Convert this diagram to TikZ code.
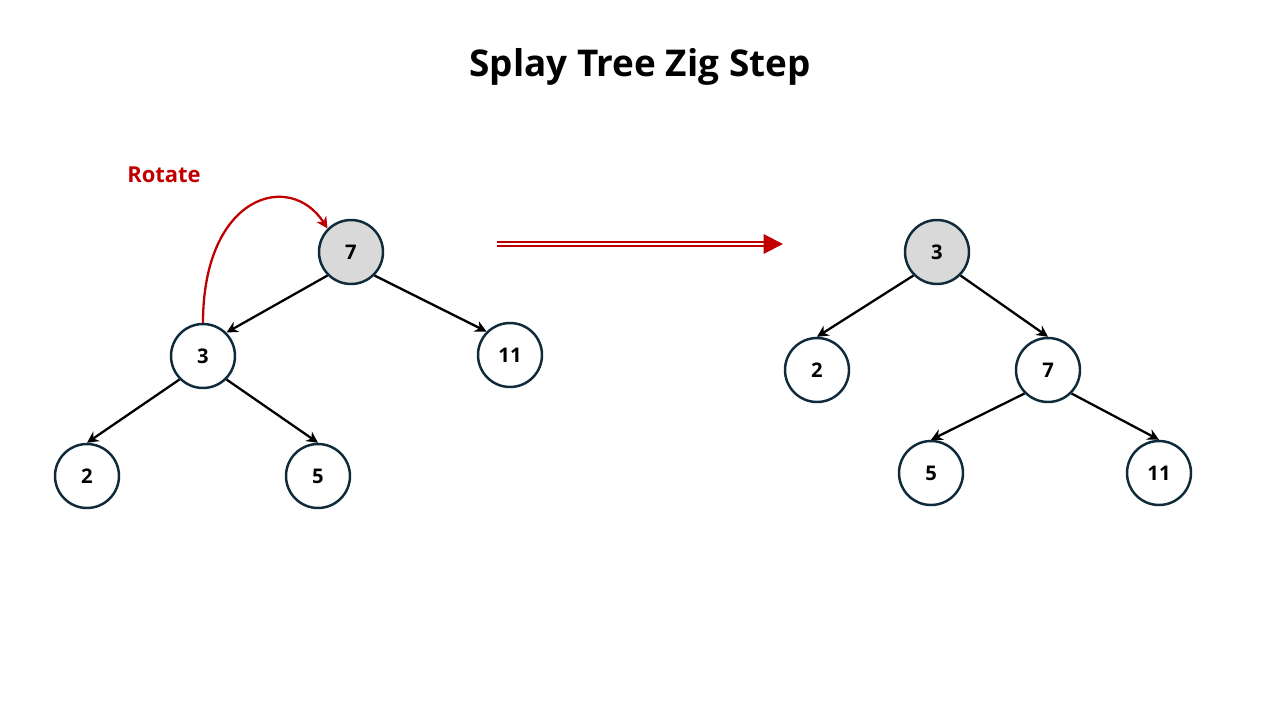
\documentclass[tikz,border=0pt]{standalone}
\usepackage{fontspec}
\setmainfont{Open Sans}
\usetikzlibrary{arrows.meta}
\definecolor{rotred}{HTML}{C00000}
\definecolor{ringblue}{HTML}{0E2A3B}
\definecolor{rootgray}{HTML}{D9D9D9}
\tikzset{
  key/.style={circle, draw=ringblue, line width=1.4pt, fill=white,
    minimum size=1.28cm, inner sep=0pt, font=\bfseries\fontsize{11.5}{13}\selectfont},
  rootkey/.style={key, fill=rootgray},
  link/.style={line width=1.3pt, -{Stealth[length=6.5pt,width=6.5pt]}}
}
\begin{document}
\begin{tikzpicture}[x=0.02cm,y=-0.02cm]
\useasboundingbox (0,0) rectangle (1280,720);
\path (640,67)  node (title)  {\bfseries\fontsize{21}{25}\selectfont Splay Tree Zig Step};
\path (164,175) node (rotate) [text=rotred] {\bfseries\fontsize{12.5}{15}\selectfont Rotate};
% before
\path (351,252) node (seven)  [rootkey] {7};
\path (203,356) node (three)  [key] {3};
\path (510,355) node (eleven) [key] {11};
\path ( 87,476) node (two)    [key] {2};
\path (318,476) node (five)   [key] {5};
\draw [link] (seven.south west) -- (three.north east);
\draw [link] (seven.south east) -- (eleven.north west);
\draw [link] (three.south west) -- (two.north);
\draw [link] (three.south east) -- (five.north);
\draw [rotred,line width=1.3pt,-{Stealth[length=6.5pt,width=6.5pt]}]
  (three.north) .. controls (203,195) and (290,170) .. (seven.north west);
% step
\coordinate (from) at (497,244);
\coordinate (to)   at (783,244);
\draw [rotred,line width=1.1pt,double=white,double distance=0.9pt,
  -{Triangle[length=11pt,width=11pt]}] (from) -- (to);
% after
\path ( 937,252) node (three')  [rootkey] {3};
\path ( 817,370) node (two')    [key] {2};
\path (1048,370) node (seven')  [key] {7};
\path ( 931,473) node (five')   [key] {5};
\path (1159,473) node (eleven') [key] {11};
\draw [link] (three'.south west) -- (two'.north);
\draw [link] (three'.south east) -- (seven'.north);
\draw [link] (seven'.south west) -- (five'.north);
\draw [link] (seven'.south east) -- (eleven'.north);
\end{tikzpicture}
\end{document}
